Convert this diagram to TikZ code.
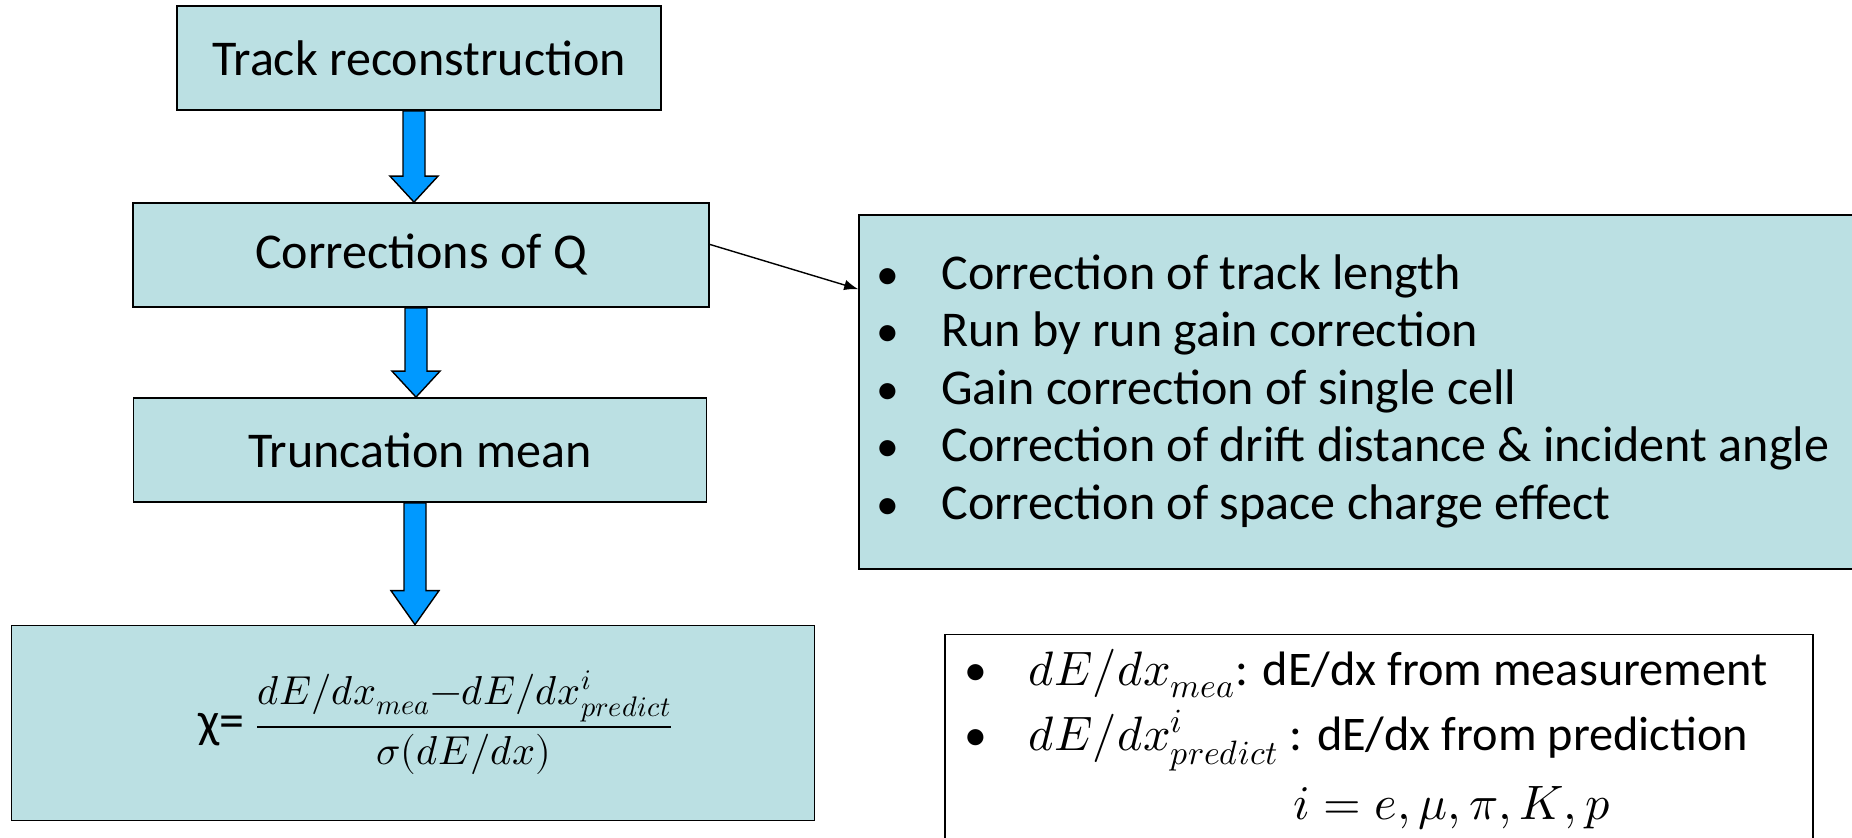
\documentclass[tikz,border=0pt]{standalone}
\usepackage{fontspec}
\usepackage{unicode-math}
\setmainfont{Carlito}
\usetikzlibrary{calc}
\usetikzlibrary{arrows.meta}
\usetikzlibrary{positioning}

\definecolor{boxfill}{RGB}{187,224,227}
\definecolor{arrowblue}{RGB}{0,153,255}

\tikzset{
  stepbox/.style={draw=black, line width=1pt, fill=boxfill, inner sep=0pt,
    minimum height=2.08cm, font=\fontsize{28.5}{34}\selectfont},
  blockarrow/.style={draw=black, line width=0.8pt, fill=arrowblue},
  listitem/.style={anchor=west, inner sep=0pt, text height=20pt, text depth=6pt,
    font=\fontsize{28.5}{34}\selectfont},
  legenditem/.style={anchor=west, inner sep=0pt, text height=20pt, text depth=6pt,
    font=\fontsize{27.5}{33}\selectfont},
}

% bullet hung left of the text
\newcommand{\hangbullet}[1]{\llap{{\fontsize{26}{26}\selectfont•}\hspace{#1}}}

% block arrow: from node, to node, head length
\newcommand{\flowarrow}[3]{%
  \path ($(#1.south)+(-5,0)$) coordinate (fa-top);
  \path (fa-top |- #2.north) coordinate (fa-tip);
  \filldraw[blockarrow] ($(fa-top)+(-11,0)$) -- ($(fa-tip)+(-11,-#3)$)
    -- ($(fa-tip)+(-24,-#3)$) -- (fa-tip) -- ($(fa-tip)+(24,-#3)$)
    -- ($(fa-tip)+(11,-#3)$) -- ($(fa-top)+(11,0)$) -- cycle;
}

\begin{document}
\begin{tikzpicture}[x=0.02cm, y=-0.02cm]
  \useasboundingbox (0,0) rectangle (1852,838);

  % left column
  \node[stepbox, minimum width=9.68cm] (track) at (419,58) {Track reconstruction};
  \node[stepbox, minimum width=11.52cm] (corr) at (421,255) {Corrections of Q};
  \node[stepbox, minimum width=11.46cm] (trunc) at (420,450) {Truncation mean};
  \node[stepbox, minimum width=16.06cm, minimum height=3.9cm] (chi) at (413,723)
    {\hspace{26pt}χ=\hspace{6pt}\fontsize{23}{27}\selectfont$\displaystyle\frac{dE/dx_{mea}{-}dE/dx^{i}_{predict}}{\sigma(dE/dx)}$};

  \flowarrow{track}{corr}{26}
  \flowarrow{corr}{trunc}{26}
  \flowarrow{trunc}{chi}{34}

  % list of corrections
  \node[draw=black, line width=1pt, fill=boxfill, minimum width=20.84cm,
    minimum height=7.08cm] (corrlist) at (1380,392) {};
  \foreach \t [count=\i] in {Correction of track length, Run by run gain correction,
      Gain correction of single cell, Correction of drift distance \& incident angle,
      Correction of space charge effect}
    \node[listitem] (item\i) at (941,{277+57.5*(\i-1)}) {\hangbullet{24pt}\t};

  \coordinate (listin) at ($(corrlist.north west)+(0,75)$);
  \draw[line width=0.8pt, -{Latex[length=8pt,width=6pt]}]
    ($(corr.north east)!0.4!(corr.south east)$) -- (listin);

  % legend
  \node[draw=black, line width=1pt, fill=white, minimum width=17.36cm,
    minimum height=5.3cm] (legend) at (1379,767) {};
  \node[legenditem] (mea) at (1028,673) {\hangbullet{23.5pt}$dE/dx_{mea}$: dE/dx from measurement};
  \node[legenditem] (pred) at (1028,738) {\hangbullet{23.5pt}$dE/dx^{i}_{predict}$ : dE/dx from prediction};
  \node[legenditem, anchor=center] (species) at (1452,807) {$i=e,\mu,\pi,K,p$};
\end{tikzpicture}
\end{document}
